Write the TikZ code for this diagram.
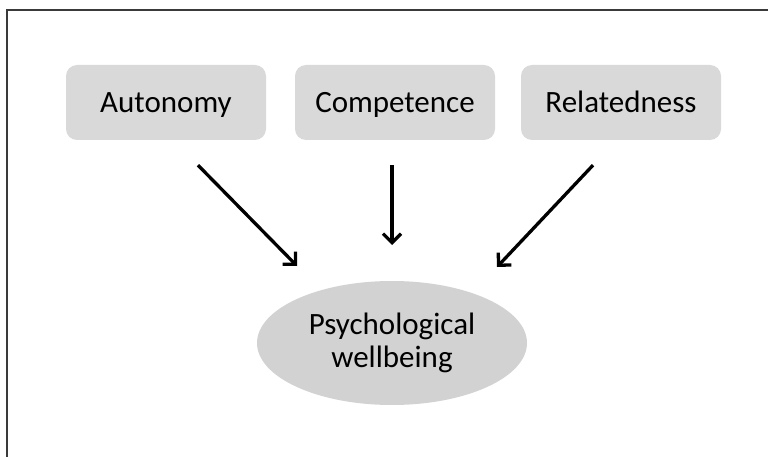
\documentclass[tikz,border=0pt]{standalone}
\usepackage{fontspec}
\setmainfont{Carlito}
\usepackage{tikz}
\usetikzlibrary{shapes,arrows.meta,positioning}
\definecolor{boxgray}{HTML}{D9D9D9}
\definecolor{ellgray}{HTML}{D2D2D2}
\definecolor{framegray}{HTML}{3A3A3A}
\tikzset{need/.style={rectangle,rounded corners=11pt,fill=boxgray,minimum width=200pt,minimum height=75pt,
    text height=23pt,text depth=3pt,font=\fontsize{31}{35}\selectfont},
  outcome/.style={ellipse,fill=ellgray,minimum width=270pt,minimum height=124pt,inner sep=0pt,align=center,
    font=\fontsize{31}{33}\selectfont},
  arr/.style={-{Straight Barb[length=9pt,width=18pt,line width=3.3pt]},line width=3.3pt}}

\begin{document}
\begin{tikzpicture}[x=1pt,y=-1pt]
    \useasboundingbox (0,0) rectangle (768,457);
    \draw[framegray,line width=1.6pt] (7,457) -- (7,10) -- (768,10);
    \node[need] (auto) at (166,102.5) {Autonomy};
    \node[need] (comp) at (395,102.5) {Competence};
    \node[need] (rel) at (621,102.5) {Relatedness};
    \node[outcome] (well) at (392,343) {Psychological\\wellbeing};
    \path[arr]
    ([shift={(32,25)}]auto.south) edge ([shift={(-95,-77)}]well.center)
    ([shift={(-3,25)}]comp.south) edge ([shift={(0,-98)}]well.center)
    ([shift={(-28,25)}]rel.south) edge ([shift={(105,-76)}]well.center)
    ;
\end{tikzpicture}
\end{document}
